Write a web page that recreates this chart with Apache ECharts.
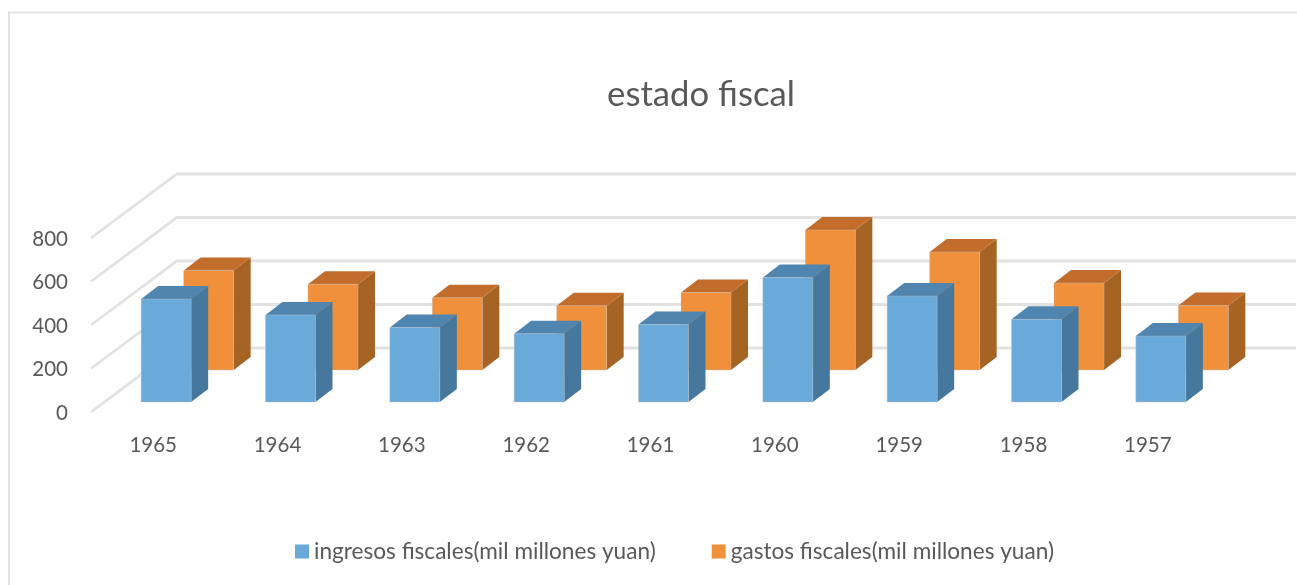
<!DOCTYPE html>
<html><head><meta charset="utf-8">
<style>html,body{margin:0;padding:0;background:#fff}#c{width:1297px;height:585px}</style>
<script src="https://cdn.jsdelivr.net/npm/echarts@6/dist/echarts.min.js"></script>
</head><body><div id="c"></div>
<script>
const title = 'estado fiscal';
const years = ['1965','1964','1963','1962','1961','1960','1959','1958','1957'];
const ingresos = [473,400,342,314,356,572,487,380,303];
const gastos = [458,394,332,295,356,644,543,400,296];
const yTicks = [0,200,400,600,800];
const nameIngresos = 'ingresos fiscales(mil millones yuan)';
const nameGastos = 'gastos fiscales(mil millones yuan)';

const FONT = 'Lato, sans-serif';
const TEXT = '#595959';
const BAR_W = 50, DX = 17, DY = 13, WALL_DX = 86, WALL_DY = 64, GRID = '#e2e2e2';

function bar3d(offX, offY, front, top, side) {
  return function (params, api) {
    const t = api.coord([api.value(0), api.value(1)]);
    const b = api.coord([api.value(0), 0]);
    const x0 = t[0] + offX - BAR_W / 2, x1 = x0 + BAR_W;
    const yT = t[1] + offY, yB = b[1] + offY;
    const edge = {stroke: 'rgba(190,190,190,0.4)', lineWidth: 1};
    return {type: 'group', children: [
      {type: 'polygon', shape: {points: [[x1,yT],[x1+DX,yT-DY],[x1+DX,yB-DY],[x1,yB]]}, style: {fill: side}},
      {type: 'polygon', shape: {points: [[x0,yT],[x0+DX,yT-DY],[x1+DX,yT-DY],[x1,yT]]}, style: {fill: top}},
      {type: 'rect', shape: {x: x0, y: yT, width: BAR_W, height: yB - yT}, style: Object.assign({fill: front}, edge)}
    ]};
  };
}

const chart = echarts.init(document.getElementById('c'), null, {renderer: 'canvas'});
chart.setOption({
  animation: false,
  backgroundColor: '#fff',
  title: {text: title, left: 696, top: 72, textAlign: 'center',
    textStyle: {fontFamily: FONT, fontSize: 34.7, fontWeight: 'normal', color: TEXT}},
  grid: {left: 91, top: 238, width: 1119, height: 174},
  xAxis: {type: 'category', data: years, boundaryGap: true,
    axisLine: {show: false}, axisTick: {show: false}, splitLine: {show: false},
    axisLabel: {fontFamily: FONT, fontSize: 20.5, color: TEXT, margin: 23}},
  yAxis: {type: 'value', min: 0, max: 800, interval: 200,
    axisLine: {show: false}, axisTick: {show: false}, splitLine: {show: false},
    axisLabel: {fontFamily: FONT, fontSize: 20.5, color: TEXT, margin: 23, verticalAlign: 'top', lineHeight: 2}},
  legend: {left: 290, top: 535, itemWidth: 14, itemHeight: 14, itemGap: 56,
    icon: 'rect', data: [nameIngresos, nameGastos],
    textStyle: {fontFamily: FONT, fontSize: 22.6, color: TEXT, padding: [3,0,0,0]}},
  graphic: [{type: 'polyline', silent: true, z: -1,
    shape: {points: [[9,585],[9,12.5],[1297,12.5]]},
    style: {stroke: '#e3e3e3', lineWidth: 2, fill: 'none'}}],
  series: [
    {type: 'custom', name: 'grid', silent: true, z: 1, clip: false,
     data: yTicks.map(v => [0, v]),
     renderItem(params, api) {
       const y = api.coord([0, api.value(1)])[1];
       const r = params.coordSys, x = r.x;
       return {type: 'polyline', shape: {points: [[x,y],[x+WALL_DX,y-WALL_DY],[x+r.width+WALL_DX,y-WALL_DY]]},
         style: {stroke: GRID, lineWidth: 2.8, fill: 'none'}};
     }},
    {type: 'custom', name: nameGastos, z: 2, clip: false,
     itemStyle: {color: '#f0903a'},
     data: gastos.map((v, i) => [i, v]),
     encode: {x: 0, y: 1},
     renderItem: bar3d(55.5, -42, '#f0903a', '#c26d2c', '#a56424')},
    {type: 'custom', name: nameIngresos, z: 3, clip: false,
     itemStyle: {color: '#6aaada'},
     data: ingresos.map((v, i) => [i, v]),
     encode: {x: 0, y: 1},
     renderItem: bar3d(13, -10, '#6aaada', '#5085b0', '#45789c')}
  ]
});
</script></body></html>
